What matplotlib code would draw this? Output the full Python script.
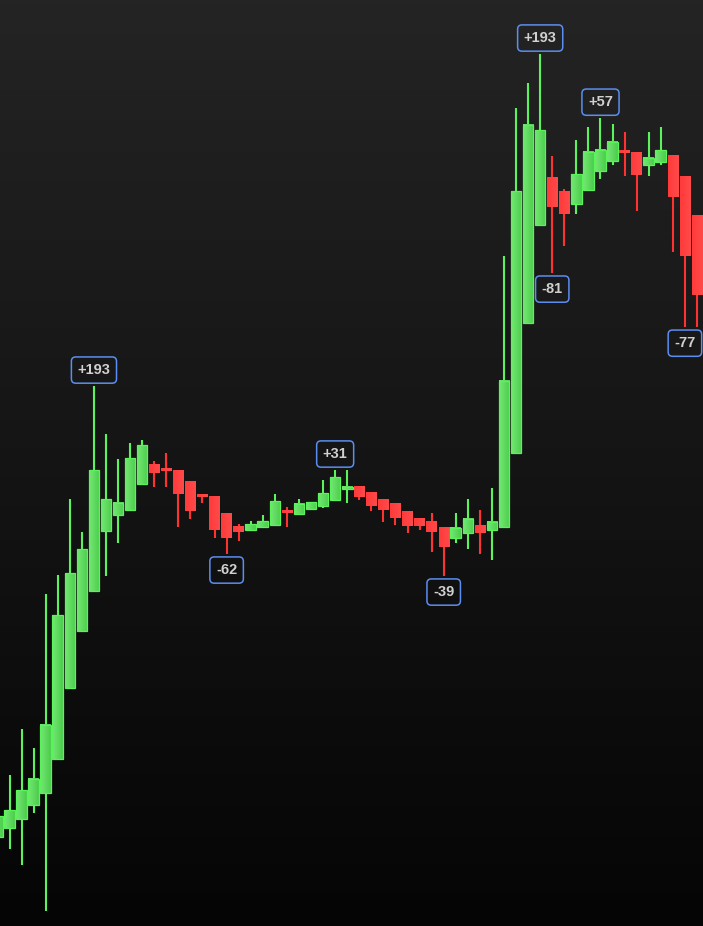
import numpy as np
import matplotlib
matplotlib.use('Agg')
import matplotlib.pyplot as plt
from matplotlib.colors import LinearSegmentedColormap
from matplotlib.patches import Rectangle

# candle data
opens = [2432.8, 2436.1, 2439.4, 2444.5, 2448.9, 2461.5, 2487.6, 2508.6, 2523.3, 2545.4,
         2551.2, 2553.1, 2562.7, 2570.0, 2568.2, 2567.8, 2563.4, 2558.6, 2557.9, 2552.0,
         2547.2, 2545.7, 2546.8, 2547.6, 2552.7, 2551.6, 2553.5, 2554.6, 2556.8, 2560.8,
         2561.6, 2559.7, 2557.1, 2555.3, 2552.7, 2550.1, 2548.7, 2546.8, 2542.8, 2544.6,
         2547.2, 2545.7, 2546.8, 2574.1, 2621.9, 2658.0, 2675.6, 2670.1, 2665.7, 2670.8,
         2677.8, 2681.5, 2685.2, 2684.5, 2680.0, 2681.2, 2683.7, 2676.0, 2661.3]
highs = [2442.0, 2455.6, 2472.5, 2465.5, 2522.2, 2529.2, 2557.1, 2545.0, 2598.7, 2581.1,
         2571.9, 2577.7, 2578.8, 2571.1, 2574.1, 2567.8, 2563.4, 2559.0, 2557.9, 2552.0,
         2547.9, 2549.0, 2551.2, 2559.0, 2554.2, 2557.1, 2556.0, 2564.1, 2567.8, 2567.8,
         2561.6, 2559.7, 2557.1, 2555.3, 2552.7, 2550.1, 2552.0, 2546.8, 2552.0, 2557.1,
         2553.1, 2561.2, 2646.6, 2701.0, 2710.2, 2720.9, 2683.4, 2671.2, 2689.2, 2694.0,
         2697.3, 2695.1, 2692.2, 2684.5, 2692.2, 2694.0, 2683.7, 2676.0, 2661.3]
lows = [2430.9, 2428.3, 2422.4, 2441.6, 2405.5, 2461.5, 2487.6, 2508.6, 2523.3, 2528.8,
        2540.9, 2553.1, 2562.7, 2561.6, 2561.6, 2546.8, 2549.8, 2555.7, 2542.8, 2536.9,
        2541.7, 2545.7, 2546.8, 2547.6, 2546.8, 2551.6, 2553.5, 2553.8, 2556.8, 2555.7,
        2556.8, 2552.7, 2548.7, 2547.6, 2544.6, 2545.7, 2537.6, 2528.8, 2540.9, 2538.7,
        2536.9, 2534.7, 2546.8, 2574.1, 2621.9, 2658.0, 2640.3, 2650.2, 2662.0, 2670.8,
        2674.9, 2680.0, 2676.0, 2663.1, 2676.0, 2680.0, 2648.0, 2620.4, 2620.4]
closes = [2440.5, 2442.7, 2450.0, 2454.1, 2474.0, 2514.4, 2529.9, 2538.7, 2567.8, 2557.1,
          2555.7, 2572.2, 2577.0, 2566.7, 2567.4, 2559.0, 2552.7, 2557.9, 2545.7, 2542.8,
          2545.0, 2547.9, 2549.0, 2556.4, 2552.0, 2555.3, 2556.0, 2559.3, 2565.2, 2561.6,
          2557.9, 2554.6, 2553.1, 2550.1, 2547.2, 2547.2, 2545.0, 2539.5, 2546.5, 2549.8,
          2544.6, 2548.7, 2600.6, 2670.5, 2694.8, 2692.9, 2664.6, 2662.0, 2676.7, 2684.8,
          2685.6, 2688.5, 2684.5, 2676.4, 2682.6, 2685.6, 2668.3, 2646.6, 2632.2]

# swing labels: candle index and text
label_idx = [8, 19, 28, 37, 45, 46, 50, 57]
label_text = ['+193', '-62', '+31', '-39', '+193', '-81', '+57', '-77']

GREEN_EDGE = '#5cf25c'
RED_WICK = '#ff3232'


def main():
    fig = plt.figure(figsize=(7.03, 9.26), dpi=100)
    ax = fig.add_axes([0, 0, 1, 1])
    ax.axis('off')

    x0, x1 = 0.21, 58.5
    y0, y1 = 2400.0, 2740.8

    # background gradient, dark at the bottom
    bg = LinearSegmentedColormap.from_list('bg', ['#050505', '#242424'])
    ax.imshow(np.linspace(0, 1, 256).reshape(-1, 1), extent=[x0, x1, y0, y1],
              origin='lower', cmap=bg, aspect='auto', zorder=0)

    green_cm = LinearSegmentedColormap.from_list('g', ['#74e874', '#4ccd4c'])
    red_cm = LinearSegmentedColormap.from_list('r', ['#ff3a3a', '#ff4a4a'])
    hgrad = np.linspace(0, 1, 32).reshape(1, -1)

    for i in range(len(opens)):
        o, h, l, c = opens[i], highs[i], lows[i], closes[i]
        up = c >= o
        bottom = min(o, c)
        height = max(abs(c - o), 0.8)
        if up:
            w = 0.88
            ax.vlines(i, l, h, colors=GREEN_EDGE, lw=1.5, zorder=2)
            ax.imshow(hgrad, extent=[i - w / 2, i + w / 2, bottom, bottom + height],
                      cmap=green_cm, aspect='auto', zorder=3)
            ax.add_patch(Rectangle((i - w / 2, bottom), w, height, fc='none',
                                   ec=GREEN_EDGE, lw=0.9, zorder=4))
        else:
            w = 0.86
            ax.vlines(i, l, h, colors=RED_WICK, lw=1.5, zorder=2)
            ax.imshow(hgrad, extent=[i - w / 2, i + w / 2, bottom, bottom + height],
                      cmap=red_cm, aspect='auto', zorder=3)

    for idx, txt in zip(label_idx, label_text):
        if txt.startswith('+'):
            xy, off, va = (idx, highs[idx]), 6.5, 'bottom'
        else:
            xy, off, va = (idx, lows[idx]), -6.5, 'top'
        ax.annotate(txt, xy=xy, xytext=(0, off), textcoords='offset points',
                    ha='center', va=va, fontsize=10.5, fontweight='bold',
                    color='#d0d0d0', family=['Liberation Sans', 'DejaVu Sans'],
                    bbox=dict(boxstyle='round,pad=0.42,rounding_size=0.3',
                              fc='none', ec='#5b8ef0', lw=1.1),
                    zorder=5)

    ax.set_xlim(x0, x1)
    ax.set_ylim(y0, y1)
    fig.savefig('out.png', dpi=100, facecolor='#050505')


if __name__ == '__main__':
    main()
